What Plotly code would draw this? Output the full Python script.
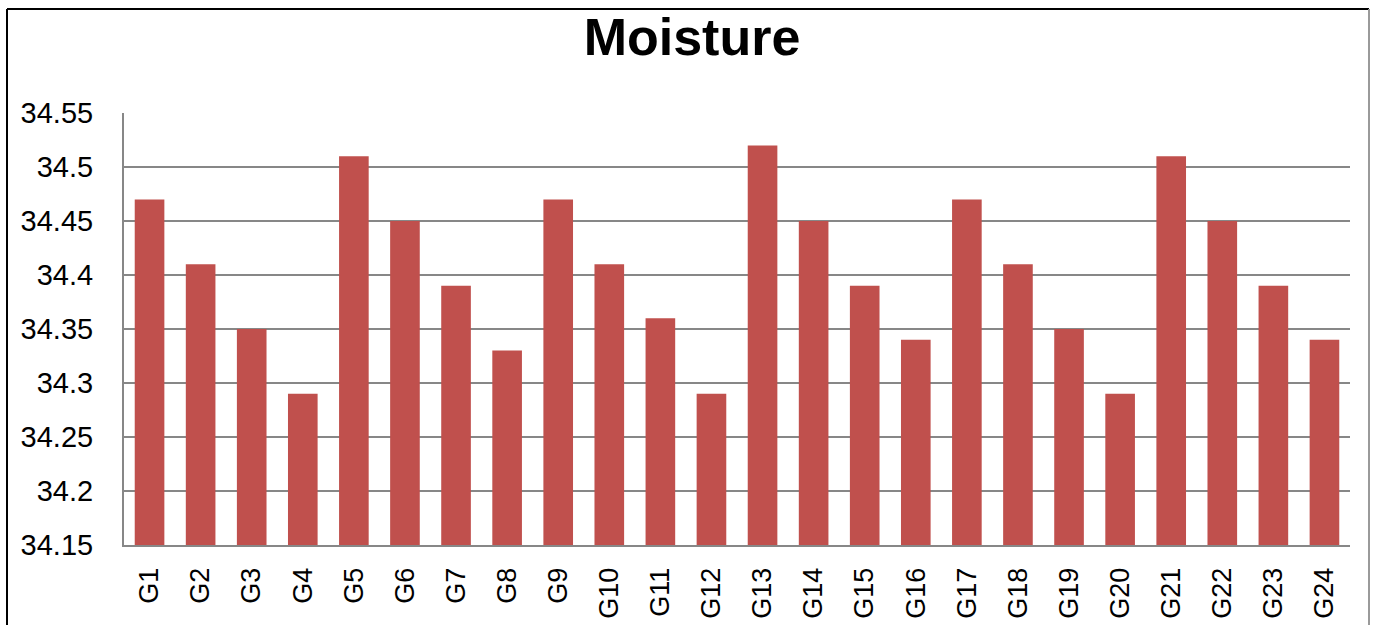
import plotly.graph_objects as go

# Moisture content per genotype
genotypes = [f"G{i}" for i in range(1, 25)]
moisture = [34.47, 34.41, 34.35, 34.29, 34.51, 34.45, 34.39, 34.33,
            34.47, 34.41, 34.36, 34.29, 34.52, 34.45, 34.39, 34.34,
            34.47, 34.41, 34.35, 34.29, 34.51, 34.45, 34.39, 34.34]

y_tick_vals = [34.15, 34.2, 34.25, 34.3, 34.35, 34.4, 34.45, 34.5, 34.55]
y_tick_text = ["34.15", "34.2", "34.25", "34.3", "34.35", "34.4", "34.45", "34.5", "34.55"]

W, H = 1373, 625
ML, MR, MT, MB = 124, 23, 113, 80
pw, ph = W - ML - MR, H - MT - MB

def px_x(x):
    return (x - ML) / pw

def px_y(y):
    return (H - MB - y) / ph

FONT = "Liberation Sans"
GRID = "#878787"

fig = go.Figure(
    go.Bar(
        x=genotypes,
        y=moisture,
        marker=dict(color="#C0504D", line=dict(width=0)),
        width=0.58,
    )
)

fig.update_layout(
    width=W,
    height=H,
    margin=dict(l=ML, r=MR, t=MT, b=MB, autoexpand=False),
    paper_bgcolor="white",
    plot_bgcolor="white",
    showlegend=False,
    title=dict(
        text="<b>Moisture</b>",
        x=692 / W,
        xanchor="center",
        y=1 - 37 / H,
        yanchor="middle",
        font=dict(family=FONT, size=52, color="#000000"),
    ),
    font=dict(family=FONT, color="#000000"),
    shapes=[
        # frame around the chart
        dict(type="line", xref="paper", yref="paper",
             x0=px_x(7), x1=px_x(1369), y0=px_y(9), y1=px_y(9),
             line=dict(color="#000000", width=2)),
        dict(type="line", xref="paper", yref="paper",
             x0=px_x(7), x1=px_x(7), y0=px_y(9), y1=px_y(640),
             line=dict(color="#000000", width=2)),
        dict(type="line", xref="paper", yref="paper",
             x0=px_x(1369), x1=px_x(1369), y0=px_y(9), y1=px_y(640),
             line=dict(color="#9a9a9a", width=2)),
    ],
)

fig.update_xaxes(
    type="category",
    tickangle=-90,
    tickfont=dict(family=FONT, size=27, color="#000000"),
    showgrid=False,
    showline=True,
    linecolor=GRID,
    linewidth=2,
    ticks="",
    ticklabelstandoff=10,
    automargin=False,
)

fig.update_yaxes(
    range=[34.15, 34.55],
    tickvals=y_tick_vals,
    ticktext=y_tick_text,
    tickfont=dict(family=FONT, size=29, color="#000000"),
    showgrid=True,
    gridcolor=GRID,
    gridwidth=2,
    showline=True,
    linecolor=GRID,
    linewidth=2,
    zeroline=False,
    ticks="",
    ticklabelstandoff=23,
    automargin=False,
)

fig.write_html("out.html")
